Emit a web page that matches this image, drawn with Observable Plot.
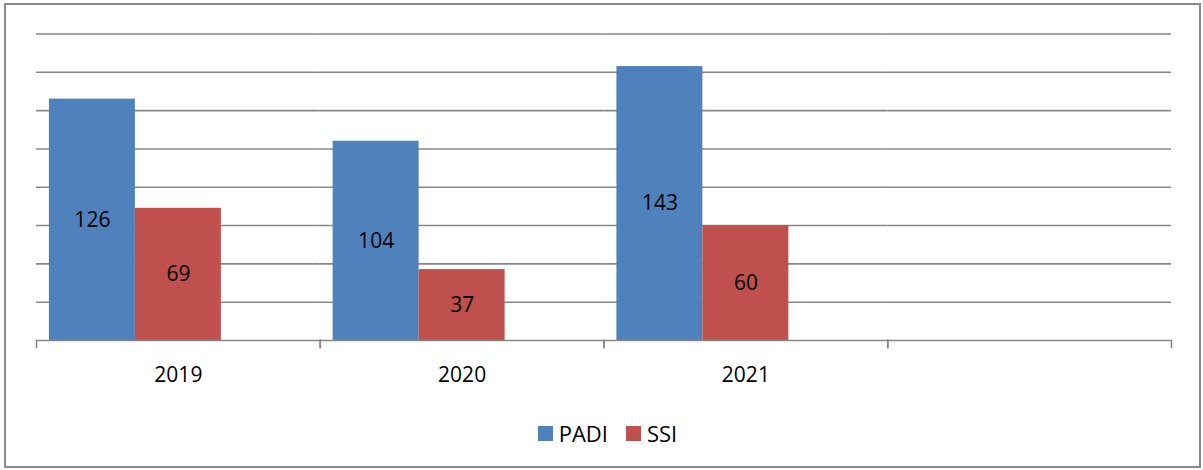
<!DOCTYPE html>
<html>
<head>
<meta charset="utf-8">
<script src="https://cdn.jsdelivr.net/npm/d3@7"></script>
<script src="https://cdn.jsdelivr.net/npm/@observablehq/plot@0.6"></script>
<style>
  html, body { margin: 0; padding: 0; background: #fff; }
  body { width: 1203px; height: 470px; position: relative; overflow: hidden; font-family: "Open Sans", sans-serif; }
  #border { position: absolute; left: 4px; top: 3px; width: 1193px; height: 461px; border: 2px solid #8a8a8a; box-sizing: content-box; pointer-events: none; }
  #chart { position: absolute; left: 0; top: 0; }
  #legend { position: absolute; top: 418px; left: 0; width: 1203px; display: flex; justify-content: center; gap: 18px; font-size: 22px; color: #000; padding-left: 12px; box-sizing: border-box; }
  .item { display: flex; align-items: center; gap: 6px; }
  .sw { width: 15px; height: 15px; display: inline-block; }
</style>
</head>
<body>
<div id="chart"></div>
<div id="legend"></div>
<div id="border"></div>
<script>
const years = ["2019", "2020", "2021", " "];
const series = ["PADI", "SSI"];
const padi = [126, 104, 143, null];
const ssi = [69, 37, 60, null];
const colors = ["#4F81BD", "#C0504D"];
const yTicks = [20, 40, 60, 80, 100, 120, 140, 160];

const data = [];
years.forEach((yr, i) => {
  data.push({year: yr, series: "PADI", value: padi[i]});
  data.push({year: yr, series: "SSI", value: ssi[i]});
});
const labelled = data.filter(d => d.value != null);

const font = "Open Sans, sans-serif";
const chart = Plot.plot({
  width: 1203,
  height: 400,
  marginLeft: 36,
  marginRight: 32,
  marginTop: 33.5,
  marginBottom: 60,
  style: {fontFamily: font, background: "transparent"},
  fx: {domain: years, padding: 0, round: false, label: null},
  x: {domain: [...series, "_"], paddingInner: 0, paddingOuter: 0.15, round: false, axis: null},
  y: {domain: [0, 160], axis: null},
  color: {domain: series, range: colors},
  marks: [
    Plot.gridY(yTicks, {stroke: "#888", strokeOpacity: 1, strokeWidth: 1.6}),
    Plot.barY(data, {fx: "year", x: "series", y: "value", fill: "series"}),
    Plot.ruleY([0], {stroke: "#888", strokeWidth: 1.6}),
    Plot.frame({anchor: "left", stroke: "#888", strokeWidth: 1.6, insetTop: 306.5, insetBottom: -7}),
    Plot.frame({anchor: "right", stroke: "#888", strokeWidth: 1.6, insetTop: 306.5, insetBottom: -7}),
    Plot.text(labelled, {fx: "year", x: "series", y: d => d.value / 2, text: d => String(d.value), fontSize: 21, fill: "#000"}),
    Plot.axisFx({anchor: "bottom", tickSize: 0, tickPadding: 27, fontSize: 21, label: null, tickFormat: d => d.trim()})
  ]
});
document.getElementById("chart").appendChild(chart);

const legend = document.getElementById("legend");
series.forEach((s, i) => {
  const it = document.createElement("div");
  it.className = "item";
  const sw = document.createElement("span");
  sw.className = "sw";
  sw.style.background = colors[i];
  const t = document.createElement("span");
  t.textContent = s;
  it.appendChild(sw);
  it.appendChild(t);
  legend.appendChild(it);
});
</script>
</body>
</html>
